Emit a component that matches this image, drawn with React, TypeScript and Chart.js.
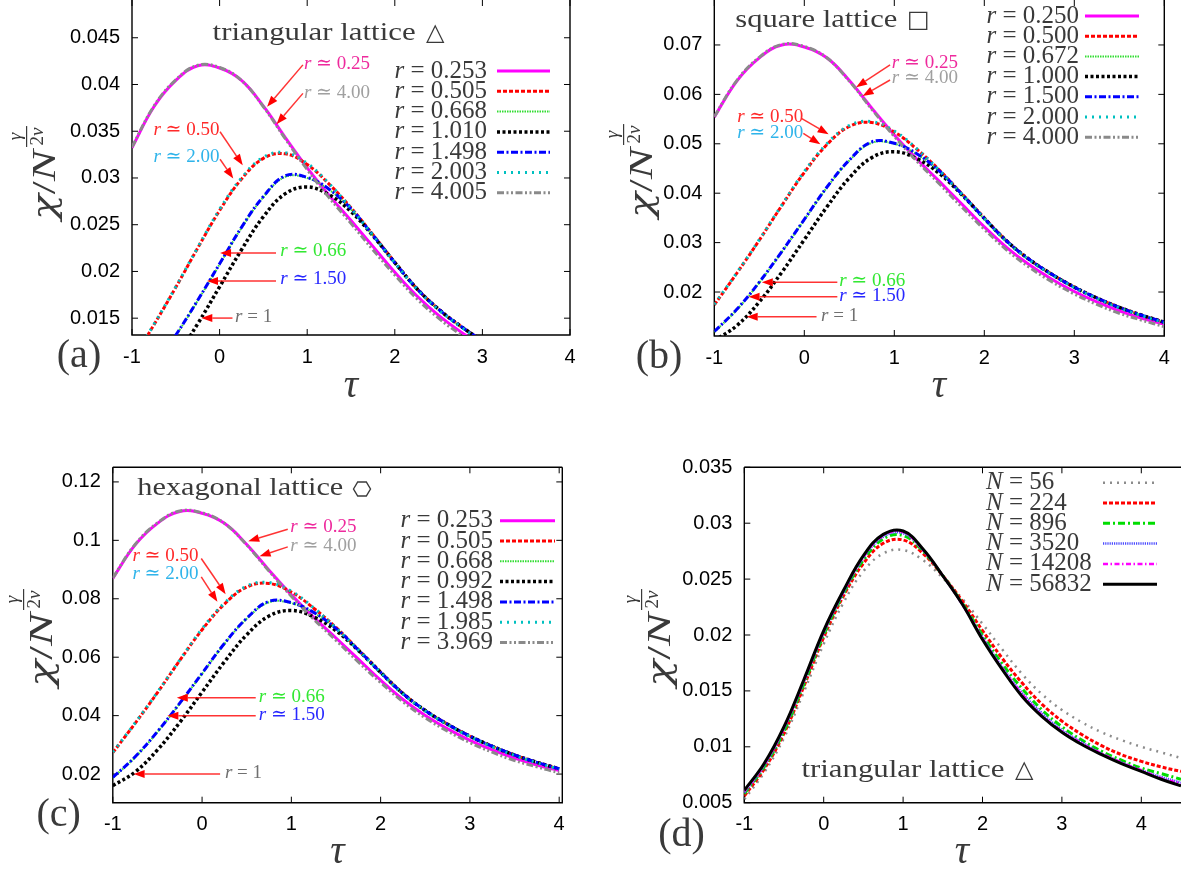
import React, { useEffect, useRef } from "react";
import { Chart, registerables } from "chart.js";

Chart.register(...registerables);

// ---------------- data ----------------
const TAU = [-1, -0.75, -0.5, -0.25, 0, 0.25, 0.5, 0.75, 1, 1.25, 1.5, 1.75, 2, 2.25, 2.5, 2.75, 3, 3.25, 3.5, 3.75, 4];
const TAU_D = [-1, -0.75, -0.5, -0.25, 0, 0.25, 0.5, 0.75, 1, 1.25, 1.5, 1.75, 2, 2.25, 2.5, 2.75, 3, 3.25, 3.5, 3.75, 4, 4.25, 4.5];

const X_TICKS = [-1, 0, 1, 2, 3, 4];
const X_LABELS = ["-1", "0", "1", "2", "3", "4"];

// (a) triangular lattice
const A_Y_TICKS = [0.015, 0.02, 0.025, 0.03, 0.035, 0.04, 0.045];
const A_Y_LABELS = ["0.015", "0.02", "0.025", "0.03", "0.035", "0.04", "0.045"];
const A_NAMES = ["0.253", "0.505", "0.668", "1.010", "1.498", "2.003", "4.005"];
const A_R0253 = [0.03324, 0.03762, 0.04044, 0.042, 0.04176, 0.04044, 0.03768, 0.03432, 0.03108, 0.02814, 0.02544, 0.02268, 0.01992, 0.0174, 0.0153, 0.01356, 0.01206, 0.0108, 0.00972, 0.00882, 0.0081];
const A_R0505 = [0.01044, 0.01428, 0.0183, 0.0225, 0.02652, 0.02988, 0.0321, 0.03258, 0.03144, 0.02934, 0.02682, 0.02394, 0.021, 0.01818, 0.01596, 0.01416, 0.0126, 0.01128, 0.01014, 0.00918, 0.00834];
const A_R0668 = [0.00714, 0.00984, 0.01314, 0.01686, 0.02076, 0.02466, 0.02796, 0.03012, 0.03, 0.02874, 0.02664, 0.02382, 0.02088, 0.01812, 0.0159, 0.0141, 0.01254, 0.01122, 0.01008, 0.00912, 0.00828];
const A_R1010 = [0.00612, 0.00792, 0.0108, 0.0144, 0.01836, 0.02232, 0.02586, 0.02832, 0.02904, 0.0282, 0.0264, 0.02382, 0.02094, 0.01818, 0.01596, 0.01416, 0.0126, 0.01128, 0.01014, 0.00918, 0.00834];
const A_R1498 = [0.0072, 0.0099, 0.0132, 0.01692, 0.02082, 0.02472, 0.02802, 0.03024, 0.03006, 0.0288, 0.0267, 0.02388, 0.02094, 0.01818, 0.01596, 0.01416, 0.0126, 0.01128, 0.01014, 0.00918, 0.00834];
const A_R2003 = [0.0105, 0.01434, 0.01836, 0.02256, 0.02664, 0.03, 0.03222, 0.0327, 0.03156, 0.0294, 0.02676, 0.02388, 0.02094, 0.01812, 0.0159, 0.0141, 0.01254, 0.01122, 0.01008, 0.00912, 0.00828];
const A_R4005 = [0.0333, 0.03768, 0.0405, 0.04206, 0.04182, 0.04044, 0.03762, 0.0342, 0.0309, 0.0279, 0.02514, 0.02232, 0.01962, 0.0171, 0.015, 0.01326, 0.01176, 0.0105, 0.00942, 0.00858, 0.0078];

// (b) square lattice
const B_Y_TICKS = [0.02, 0.03, 0.04, 0.05, 0.06, 0.07];
const B_Y_LABELS = ["0.02", "0.03", "0.04", "0.05", "0.06", "0.07"];
const B_NAMES = ["0.250", "0.500", "0.672", "1.000", "1.500", "2.000", "4.000"];
const B_R0250 = [0.0554, 0.0627, 0.0674, 0.07, 0.0696, 0.0674, 0.0628, 0.0572, 0.0518, 0.0469, 0.0424, 0.0378, 0.0332, 0.029, 0.0255, 0.0226, 0.0201, 0.018, 0.0162, 0.0147, 0.0135];
const B_R0500 = [0.0174, 0.0238, 0.0305, 0.0375, 0.0442, 0.0498, 0.0535, 0.0543, 0.0524, 0.0489, 0.0447, 0.0399, 0.035, 0.0303, 0.0266, 0.0236, 0.021, 0.0188, 0.0169, 0.0153, 0.0139];
const B_R0672 = [0.0119, 0.0164, 0.0219, 0.0281, 0.0346, 0.0411, 0.0466, 0.0502, 0.05, 0.0479, 0.0444, 0.0397, 0.0348, 0.0302, 0.0265, 0.0235, 0.0209, 0.0187, 0.0168, 0.0152, 0.0138];
const B_R1000 = [0.0102, 0.0132, 0.018, 0.024, 0.0306, 0.0372, 0.0431, 0.0472, 0.0484, 0.047, 0.044, 0.0397, 0.0349, 0.0303, 0.0266, 0.0236, 0.021, 0.0188, 0.0169, 0.0153, 0.0139];
const B_R1500 = [0.012, 0.0165, 0.022, 0.0282, 0.0347, 0.0412, 0.0467, 0.0504, 0.0501, 0.048, 0.0445, 0.0398, 0.0349, 0.0303, 0.0266, 0.0236, 0.021, 0.0188, 0.0169, 0.0153, 0.0139];
const B_R2000 = [0.0175, 0.0239, 0.0306, 0.0376, 0.0444, 0.05, 0.0537, 0.0545, 0.0526, 0.049, 0.0446, 0.0398, 0.0349, 0.0302, 0.0265, 0.0235, 0.0209, 0.0187, 0.0168, 0.0152, 0.0138];
const B_R4000 = [0.0555, 0.0628, 0.0675, 0.0701, 0.0697, 0.0674, 0.0627, 0.057, 0.0515, 0.0465, 0.0419, 0.0372, 0.0327, 0.0285, 0.025, 0.0221, 0.0196, 0.0175, 0.0157, 0.0143, 0.013];

// (c) hexagonal lattice
const C_Y_TICKS = [0.02, 0.04, 0.06, 0.08, 0.1, 0.12];
const C_Y_LABELS = ["0.02", "0.04", "0.06", "0.08", "0.1", "0.12"];
const C_NAMES = ["0.253", "0.505", "0.668", "0.992", "1.498", "1.985", "3.969"];
const C_R0253 = [0.08698, 0.09844, 0.10582, 0.1099, 0.10927, 0.10582, 0.0986, 0.0898, 0.08133, 0.07363, 0.06657, 0.05935, 0.05212, 0.04553, 0.04004, 0.03548, 0.03156, 0.02826, 0.02543, 0.02308, 0.0212];
const C_R0505 = [0.02732, 0.03737, 0.04789, 0.05888, 0.06939, 0.07819, 0.084, 0.08525, 0.08227, 0.07677, 0.07018, 0.06264, 0.05495, 0.04757, 0.04176, 0.03705, 0.03297, 0.02952, 0.02653, 0.02402, 0.02182];
const C_R0668 = [0.01868, 0.02575, 0.03438, 0.04412, 0.05432, 0.06453, 0.07316, 0.07881, 0.0785, 0.0752, 0.06971, 0.06233, 0.05464, 0.04741, 0.04161, 0.0369, 0.03281, 0.02936, 0.02638, 0.02386, 0.02167];
const C_R0992 = [0.01601, 0.02072, 0.02826, 0.03768, 0.04804, 0.0584, 0.06767, 0.0741, 0.07599, 0.07379, 0.06908, 0.06233, 0.05479, 0.04757, 0.04176, 0.03705, 0.03297, 0.02952, 0.02653, 0.02402, 0.02182];
const C_R1498 = [0.01884, 0.02591, 0.03454, 0.04427, 0.05448, 0.06468, 0.07332, 0.07913, 0.07866, 0.07536, 0.06987, 0.06249, 0.05479, 0.04757, 0.04176, 0.03705, 0.03297, 0.02952, 0.02653, 0.02402, 0.02182];
const C_R1985 = [0.02748, 0.03752, 0.04804, 0.05903, 0.06971, 0.0785, 0.08431, 0.08557, 0.08258, 0.07693, 0.07002, 0.06249, 0.05479, 0.04741, 0.04161, 0.0369, 0.03281, 0.02936, 0.02638, 0.02386, 0.02167];
const C_R3969 = [0.08714, 0.0986, 0.10598, 0.11006, 0.10943, 0.10582, 0.09844, 0.08949, 0.08086, 0.073, 0.06578, 0.0584, 0.05134, 0.04475, 0.03925, 0.0347, 0.03077, 0.02748, 0.02465, 0.02245, 0.02041];

// (d) triangular lattice, size dependence
const D_Y_TICKS = [0.005, 0.01, 0.015, 0.02, 0.025, 0.03, 0.035];
const D_Y_LABELS = ["0.005", "0.01", "0.015", "0.02", "0.025", "0.03", "0.035"];
const D_NAMES = ["56", "224", "896", "3520", "14208", "56832"];
const D_N56 = [0.0053, 0.0077, 0.0108, 0.0149, 0.0192, 0.0229, 0.0257, 0.0273, 0.0276, 0.0267, 0.0251, 0.0232, 0.021, 0.0187, 0.0165, 0.0147, 0.0133, 0.0122, 0.0113, 0.0106, 0.01, 0.0095, 0.009];
const D_N224 = [0.0056, 0.008, 0.0112, 0.0154, 0.0198, 0.0235, 0.0264, 0.0282, 0.0285, 0.0273, 0.0253, 0.023, 0.0204, 0.0179, 0.0157, 0.0138, 0.0123, 0.0111, 0.0101, 0.0093, 0.0087, 0.0082, 0.0078];
const D_N896 = [0.0058, 0.0082, 0.0114, 0.0156, 0.0200, 0.0237, 0.0267, 0.0286, 0.0289, 0.0275, 0.0253, 0.0228, 0.02, 0.0174, 0.0152, 0.0133, 0.0118, 0.0106, 0.0096, 0.0088, 0.0081, 0.0076, 0.0071];
const D_N3520 = [0.0059, 0.0083, 0.0116, 0.0158, 0.0202, 0.0238, 0.0269, 0.0288, 0.0291, 0.0276, 0.0253, 0.0227, 0.0198, 0.0171, 0.0148, 0.013, 0.0115, 0.0104, 0.0094, 0.0086, 0.0079, 0.0073, 0.0068];
const D_N14208 = [0.006, 0.0084, 0.0117, 0.0159, 0.0203, 0.0239, 0.027, 0.0289, 0.0292, 0.0276, 0.0253, 0.0227, 0.0197, 0.017, 0.0147, 0.0128, 0.0114, 0.0103, 0.0094, 0.0086, 0.0079, 0.0072, 0.0067];
const D_N56832 = [0.0061, 0.0085, 0.0118, 0.016, 0.0204, 0.024, 0.0271, 0.029, 0.0293, 0.0277, 0.0253, 0.0227, 0.0196, 0.0169, 0.0145, 0.0127, 0.0113, 0.0102, 0.0093, 0.0085, 0.0078, 0.0071, 0.0065];

// ---------------- styles ----------------
const SERIF = '"Liberation Serif", "DejaVu Serif", serif';
const GREEK = '"DejaVu Serif", "Liberation Serif", serif';
const SANS = '"Liberation Sans", Arial, sans-serif';
const TEXT_GRAY = "#3a3a3a";

const ST_MAG = { color: "#ff00ff", dash: [], width: 3 };
const ST_RED = { color: "#ff0000", dash: [4, 2], width: 3 };
const ST_GRN = { color: "#33dd33", dash: [1.5, 1], width: 2 };
const ST_BLK = { color: "#000000", dash: [3, 2.5], width: 3.5 };
const ST_BLU = { color: "#0000ff", dash: [7, 2.5, 2, 2.5], width: 3 };
const ST_CYN = { color: "#00c0c0", dash: [2, 5], width: 3 };
const ST_GRY = { color: "#8a8a8a", dash: [7, 2.5, 2, 2.5, 2, 2.5], width: 3 };
const R_STYLES = [ST_MAG, ST_RED, ST_GRN, ST_BLK, ST_BLU, ST_CYN, ST_GRY];

const D_STYLES = [
  { color: "#8c8c8c", dash: [2, 5], width: 2.5 },
  { color: "#ff0000", dash: [4, 2], width: 3 },
  { color: "#00dd00", dash: [7, 3, 2, 3], width: 3 },
  { color: "#4a4aff", dash: [1.2, 1], width: 2.5 },
  { color: "#ff00ff", dash: [5, 2.5, 1.5, 2.5], width: 2.5 },
  { color: "#000000", dash: [], width: 3 },
];

const NC = { mag: "#ee2a9d", gry: "#a0a0a0", red: "#ff2a2a", cyn: "#2fb4ea", grn: "#33e833", blu: "#2828ff", one: "#707070" };

function rp(rest: string) {
  return [{ t: "r", it: true }, { t: rest }];
}

function makeSeries(names: string[], arrays: number[][], styles: any[]) {
  return names.map((n, i) => ({ name: n, data: arrays[i], ...styles[i] }));
}

// ---------------- panels ----------------
const PANEL_A = {
  key: "a",
  box: { left: 0, top: 0, width: 590, height: 430 },
  area: { yAxisW: 132, xAxisH: 95, padTop: 0, padRight: 20 },
  frame: { top: false, right: true },
  x: { min: -1, max: 4, ticks: X_TICKS, labels: X_LABELS },
  y: { min: 0.0132, max: 0.04904, ticks: A_Y_TICKS, labels: A_Y_LABELS },
  tau: TAU,
  varName: "r",
  series: makeSeries(A_NAMES, [A_R0253, A_R0505, A_R0668, A_R1010, A_R1498, A_R2003, A_R4005], R_STYLES),
  legend: { x: 487, align: "right", y0: 71, dy: 20.3, l0: 497, l1: 550 },
  title: { text: "triangular lattice", x: 212.6, y: 39.5, w: 203, sym: "△", symX: 426 },
  label: { text: "(a)", x: 79, y: 367 },
  yTitle: { cx: 55, cy: 220, len: 70 },
  xTitle: { x: 351, y: 397 },
  notes: [
    { parts: rp(" ≃ 0.25"), color: NC.mag, tx: 0.963, ty: 0.04215, ax: 0.951, ay: 0.0421, bx: 0.542, by: 0.03761 },
    { parts: rp(" ≃ 4.00"), color: NC.gry, tx: 0.963, ty: 0.03911, ax: 0.951, ay: 0.03905, bx: 0.65, by: 0.03576 },
    { parts: rp(" ≃ 0.50"), color: NC.red, tx: -0.755, ty: 0.03512, ax: 0.005, ay: 0.03494, bx: 0.264, by: 0.03137 },
    { parts: rp(" ≃ 2.00"), color: NC.cyn, tx: -0.755, ty: 0.0322, ax: 0.005, ay: 0.032, bx: 0.156, by: 0.02995 },
    { parts: rp(" ≃ 0.66"), color: NC.grn, tx: 0.693, ty: 0.0222, ax: 0.644, ay: 0.02198, bx: 0.005, by: 0.02198 },
    { parts: rp(" ≃ 1.50"), color: NC.blu, tx: 0.693, ty: 0.01924, ax: 0.644, ay: 0.01898, bx: -0.144, by: 0.01898 },
    { parts: rp(" = 1"), color: NC.one, tx: 0.176, ty: 0.01513, ax: 0.147, ay: 0.01501, bx: -0.209, by: 0.01501 },
  ],
};

const PANEL_B = {
  key: "b",
  box: { left: 590, top: 0, width: 592, height: 430 },
  area: { yAxisW: 124.3, xAxisH: 94, padTop: 0, padRight: 17.7 },
  frame: { top: false, right: true },
  x: { min: -1, max: 4, ticks: X_TICKS, labels: X_LABELS },
  y: { min: 0.0111, max: 0.0791, ticks: B_Y_TICKS, labels: B_Y_LABELS },
  tau: TAU,
  varName: "r",
  series: makeSeries(B_NAMES, [B_R0250, B_R0500, B_R0672, B_R1000, B_R1500, B_R2000, B_R4000], R_STYLES),
  legend: { x: 1079, align: "right", y0: 16, dy: 20.2, l0: 1085, l1: 1139 },
  title: { text: "square lattice", x: 735.3, y: 26.7, w: 162, sym: "□", symX: 907 },
  label: { text: "(b)", x: 659, y: 368 },
  yTitle: { cx: 652, cy: 218, len: 70 },
  xTitle: { x: 939, y: 397 },
  notes: [
    { parts: rp(" ≃ 0.25"), color: NC.mag, tx: 0.973, ty: 0.0663, ax: 0.953, ay: 0.06595, bx: 0.576, by: 0.06144 },
    { parts: rp(" ≃ 4.00"), color: NC.gry, tx: 0.973, ty: 0.06338, ax: 0.953, ay: 0.06291, bx: 0.648, by: 0.05968 },
    { parts: rp(" ≃ 0.50"), color: NC.red, tx: -0.746, ty: 0.05536, ax: -0.032, ay: 0.05516, bx: 0.27, by: 0.05192 },
    { parts: rp(" ≃ 2.00"), color: NC.cyn, tx: -0.746, ty: 0.05225, ax: -0.011, ay: 0.05213, bx: 0.178, by: 0.0499 },
    { parts: rp(" ≃ 0.66"), color: NC.grn, tx: 0.388, ty: 0.02223, ax: 0.367, ay: 0.02196, bx: -0.472, by: 0.02196 },
    { parts: rp(" ≃ 1.50"), color: NC.blu, tx: 0.388, ty: 0.01925, ax: 0.367, ay: 0.01905, bx: -0.619, by: 0.01905 },
    { parts: rp(" = 1"), color: NC.one, tx: 0.186, ty: 0.01514, ax: 0.136, ay: 0.015, bx: -0.64, by: 0.015 },
  ],
};

const PANEL_C = {
  key: "c",
  box: { left: 0, top: 430, width: 590, height: 441 },
  area: { yAxisW: 112.8, xAxisH: 68.3, padTop: 37.3, padRight: 27.7 },
  frame: { top: true, right: true },
  x: { min: -1, max: 4.035, ticks: X_TICKS, labels: X_LABELS },
  y: { min: 0.0102, max: 0.125, ticks: C_Y_TICKS, labels: C_Y_LABELS },
  tau: TAU,
  varName: "r",
  series: makeSeries(C_NAMES, [C_R0253, C_R0505, C_R0668, C_R0992, C_R1498, C_R1985, C_R3969], R_STYLES),
  legend: { x: 493, align: "right", y0: 520.7, dy: 20.3, l0: 500, l1: 555 },
  title: { text: "hexagonal lattice", x: 137.3, y: 495, w: 206, sym: "", symX: 354, hex: { cx: 362, cy: 489 } },
  label: { text: "(c)", x: 58.7, y: 826 },
  yTitle: { cx: 52, cy: 687, len: 74 },
  xTitle: { x: 337.5, y: 863 },
  notes: [
    { parts: rp(" ≃ 0.25"), color: NC.mag, tx: 0.989, ty: 0.1044, ax: 0.96, ay: 0.1038, bx: 0.517, by: 0.09972 },
    { parts: rp(" ≃ 4.00"), color: NC.gry, tx: 0.989, ty: 0.09811, ax: 0.96, ay: 0.09777, bx: 0.644, by: 0.09459 },
    { parts: rp(" ≃ 0.50"), color: NC.red, tx: -0.78, ty: 0.09459, ax: -0.009, ay: 0.0938, bx: 0.264, by: 0.08159 },
    { parts: rp(" ≃ 2.00"), color: NC.cyn, tx: -0.78, ty: 0.08832, ax: -0.009, ay: 0.0875, bx: 0.172, by: 0.07895 },
    { parts: rp(" ≃ 0.66"), color: NC.grn, tx: 0.635, ty: 0.04645, ax: 0.601, ay: 0.04612, bx: -0.283, by: 0.04612 },
    { parts: rp(" ≃ 1.50"), color: NC.blu, tx: 0.635, ty: 0.04019, ax: 0.601, ay: 0.03996, bx: -0.389, by: 0.03996 },
    { parts: rp(" = 1"), color: NC.one, tx: 0.256, ty: 0.02025, ax: 0.202, ay: 0.02002, bx: -0.767, by: 0.02002 },
  ],
};

const PANEL_D = {
  key: "d",
  box: { left: 590, top: 430, width: 592, height: 441 },
  area: { yAxisW: 154.3, xAxisH: 68.3, padTop: 37.3, padRight: 1 },
  frame: { top: true, right: false },
  x: { min: -1, max: 4.5, ticks: X_TICKS, labels: X_LABELS },
  y: { min: 0.005, max: 0.035, ticks: D_Y_TICKS, labels: D_Y_LABELS },
  tau: TAU_D,
  varName: "N",
  series: makeSeries(D_NAMES, [D_N56, D_N224, D_N896, D_N3520, D_N14208, D_N56832], D_STYLES),
  legend: { x: 986, align: "left", y0: 482.7, dy: 20.3, l0: 1103, l1: 1157 },
  title: { text: "triangular lattice", x: 801.4, y: 776.7, w: 203, sym: "△", symX: 1015 },
  label: { text: "(d)", x: 681.5, y: 846 },
  yTitle: { cx: 670, cy: 687, len: 74 },
  xTitle: { x: 962, y: 863 },
  notes: [],
};

const PANELS = [PANEL_A, PANEL_B, PANEL_C, PANEL_D];

// ---------------- drawing helpers ----------------
function fontOf(it: boolean, size: number, fam: string = SERIF) {
  return `${it ? "italic " : ""}${size}px ${fam}`;
}

function drawParts(ctx: CanvasRenderingContext2D, parts: any[], x: number, y: number, size: number, align: string) {
  let total = 0;
  for (const p of parts) {
    ctx.font = fontOf(!!p.it, size);
    total += ctx.measureText(p.t).width;
  }
  let px = align === "right" ? x - total : x;
  ctx.textAlign = "left";
  for (const p of parts) {
    ctx.font = fontOf(!!p.it, size);
    ctx.fillText(p.t, px, y);
    px += ctx.measureText(p.t).width;
  }
}

function drawArrow(ctx: CanvasRenderingContext2D, x0: number, y0: number, x1: number, y1: number) {
  const ang = Math.atan2(y1 - y0, x1 - x0);
  const L = 11;
  const W = 4;
  const bx = x1 - L * Math.cos(ang);
  const by = y1 - L * Math.sin(ang);
  ctx.setLineDash([]);
  ctx.strokeStyle = "rgba(255,0,0,0.8)";
  ctx.lineWidth = 1.5;
  ctx.beginPath();
  ctx.moveTo(x0, y0);
  ctx.lineTo(bx, by);
  ctx.stroke();
  ctx.fillStyle = "#ff0000";
  ctx.beginPath();
  ctx.moveTo(x1, y1);
  ctx.lineTo(bx + W * Math.sin(ang), by - W * Math.cos(ang));
  ctx.lineTo(bx - W * Math.sin(ang), by + W * Math.cos(ang));
  ctx.closePath();
  ctx.fill();
}

function drawYTitle(ctx: CanvasRenderingContext2D, cx: number, cy: number, len: number) {
  ctx.save();
  ctx.translate(cx, cy);
  ctx.rotate(-Math.PI / 2);
  ctx.fillStyle = TEXT_GRAY;
  ctx.textBaseline = "alphabetic";
  ctx.textAlign = "left";
  const F = 34;
  const chiFont = fontOf(true, 31, GREEK);
  ctx.font = chiFont;
  const wChi = ctx.measureText("χ").width;
  ctx.font = fontOf(false, F);
  const wSl = ctx.measureText("/").width;
  ctx.font = fontOf(true, F);
  const wN = ctx.measureText("N").width;
  const sx = len / (wChi + wSl + wN);
  ctx.save();
  ctx.scale(sx, 1);
  ctx.font = chiFont;
  ctx.fillText("χ", 0, 0);
  ctx.font = fontOf(false, F);
  ctx.fillText("/", wChi, 0);
  ctx.font = fontOf(true, F);
  ctx.fillText("N", wChi + wSl, 0);
  ctx.restore();
  const x = len + 3;
  const f = 19;
  ctx.font = fontOf(true, f);
  const wg = ctx.measureText("γ").width;
  const wnu = ctx.measureText("ν").width;
  ctx.font = fontOf(false, f);
  const w2 = ctx.measureText("2").width;
  const fw = Math.max(wg, w2 + wnu) + 3;
  ctx.fillRect(x, -29, fw, 1.2);
  ctx.font = fontOf(true, f);
  ctx.fillText("γ", x + (fw - wg) / 2, -34);
  ctx.font = fontOf(false, f);
  ctx.fillText("2", x + (fw - w2 - wnu) / 2, -12);
  ctx.font = fontOf(true, f);
  ctx.fillText("ν", x + (fw - w2 - wnu) / 2 + w2, -12);
  ctx.restore();
}

function decoPlugin(p: any) {
  return {
    id: "deco_" + p.key,
    beforeDatasetsDraw(chart: any) {
      const { ctx, chartArea: a, scales } = chart;
      ctx.save();
      ctx.setLineDash([]);
      ctx.strokeStyle = "#000";
      ctx.lineWidth = 1.4;
      ctx.beginPath();
      ctx.moveTo(a.left, a.top);
      ctx.lineTo(a.left, a.bottom);
      ctx.lineTo(a.right, a.bottom);
      if (p.frame.right) ctx.lineTo(a.right, a.top);
      if (p.frame.top) {
        ctx.moveTo(a.left, a.top);
        ctx.lineTo(a.right, a.top);
      }
      ctx.stroke();
      const T = 6;
      ctx.lineWidth = 1;
      ctx.beginPath();
      for (const v of p.x.ticks) {
        const px = scales.x.getPixelForValue(v);
        ctx.moveTo(px, a.bottom);
        ctx.lineTo(px, a.bottom - T);
        ctx.moveTo(px, a.top);
        ctx.lineTo(px, a.top + T);
      }
      for (const v of p.y.ticks) {
        const py = scales.y.getPixelForValue(v);
        ctx.moveTo(a.left, py);
        ctx.lineTo(a.left + T, py);
        if (p.frame.right) {
          ctx.moveTo(a.right, py);
          ctx.lineTo(a.right - T, py);
        }
      }
      ctx.stroke();
      ctx.restore();
    },
    afterDatasetsDraw(chart: any) {
      const { ctx, scales } = chart;
      const sx = scales.x;
      const sy = scales.y;
      ctx.save();
      // annotations (data coordinates)
      ctx.textBaseline = "middle";
      for (const n of p.notes) {
        drawArrow(ctx, sx.getPixelForValue(n.ax), sy.getPixelForValue(n.ay), sx.getPixelForValue(n.bx), sy.getPixelForValue(n.by));
        ctx.fillStyle = n.color;
        drawParts(ctx, n.parts, sx.getPixelForValue(n.tx), sy.getPixelForValue(n.ty), 19, "left");
      }
      // page-coordinate decorations
      ctx.translate(-p.box.left, -p.box.top);
      // legend
      const lg = p.legend;
      p.series.forEach((s: any, i: number) => {
        const y = lg.y0 + i * lg.dy;
        ctx.fillStyle = TEXT_GRAY;
        ctx.textBaseline = "middle";
        drawParts(ctx, [{ t: p.varName, it: true }, { t: " = " + s.name }], lg.x, y, 25, lg.align);
        ctx.strokeStyle = s.color;
        ctx.lineWidth = s.width;
        ctx.setLineDash(s.dash);
        ctx.beginPath();
        ctx.moveTo(lg.l0, y);
        ctx.lineTo(lg.l1, y);
        ctx.stroke();
      });
      ctx.setLineDash([]);
      // title
      const t = p.title;
      ctx.fillStyle = TEXT_GRAY;
      ctx.textBaseline = "alphabetic";
      ctx.textAlign = "left";
      ctx.font = fontOf(false, 25);
      const tw = ctx.measureText(t.text).width;
      ctx.save();
      ctx.translate(t.x, t.y);
      ctx.scale(t.w / tw, 1);
      ctx.fillText(t.text, 0, 0);
      ctx.restore();
      if (t.sym) {
        ctx.font = `24px "DejaVu Sans", sans-serif`;
        ctx.fillText(t.sym, t.symX, t.y);
      }
      if (t.hex) {
        const { cx, cy } = t.hex;
        ctx.strokeStyle = TEXT_GRAY;
        ctx.lineWidth = 1.4;
        ctx.beginPath();
        ctx.moveTo(cx - 8.5, cy);
        ctx.lineTo(cx - 4.3, cy - 7);
        ctx.lineTo(cx + 4.3, cy - 7);
        ctx.lineTo(cx + 8.5, cy);
        ctx.lineTo(cx + 4.3, cy + 7);
        ctx.lineTo(cx - 4.3, cy + 7);
        ctx.closePath();
        ctx.stroke();
      }
      // panel label
      ctx.font = fontOf(false, 40);
      ctx.textAlign = "center";
      ctx.fillText(p.label.text, p.label.x, p.label.y);
      // x title
      ctx.font = fontOf(true, 40);
      ctx.fillText("τ", p.xTitle.x, p.xTitle.y);
      ctx.textAlign = "left";
      // y title
      drawYTitle(ctx, p.yTitle.cx, p.yTitle.cy, p.yTitle.len);
      ctx.restore();
    },
  };
}

function buildConfig(p: any) {
  const n = p.series.length;
  const datasets = p.series.map((s: any, i: number) => ({
    label: s.name,
    data: s.data.map((v: number, j: number) => ({ x: p.tau[j], y: v })),
    borderColor: s.color,
    backgroundColor: s.color,
    borderWidth: s.width,
    borderDash: s.dash,
    borderCapStyle: "butt",
    pointRadius: 0,
    pointHoverRadius: 0,
    fill: false,
    tension: 0.4,
    order: n - i,
  }));
  const tickFont = { family: SANS, size: 20 };
  return {
    type: "line",
    data: { datasets },
    options: {
      responsive: false,
      maintainAspectRatio: false,
      animation: false,
      devicePixelRatio: 1,
      events: [],
      layout: { padding: { left: 0, top: p.area.padTop, right: p.area.padRight, bottom: 0 } },
      plugins: { legend: { display: false }, tooltip: { enabled: false }, title: { display: false } },
      scales: {
        x: {
          type: "linear",
          position: "bottom",
          min: p.x.min,
          max: p.x.max,
          grid: { display: false, drawTicks: false },
          border: { display: false },
          afterBuildTicks: (s: any) => {
            s.ticks = p.x.ticks.map((v: number) => ({ value: v }));
          },
          afterFit: (s: any) => {
            s.height = p.area.xAxisH;
            s.paddingLeft = 0;
            s.paddingRight = 0;
          },
          ticks: {
            callback: (_v: any, i: number) => p.x.labels[i],
            padding: 10,
            font: tickFont,
            color: "#000",
            maxRotation: 0,
            minRotation: 0,
            autoSkip: false,
          },
        },
        y: {
          type: "linear",
          position: "left",
          min: p.y.min,
          max: p.y.max,
          grid: { display: false, drawTicks: false },
          border: { display: false },
          afterBuildTicks: (s: any) => {
            s.ticks = p.y.ticks.map((v: number) => ({ value: v }));
          },
          afterFit: (s: any) => {
            s.width = p.area.yAxisW;
            s.paddingTop = 0;
            s.paddingBottom = 0;
          },
          ticks: {
            callback: (_v: any, i: number) => p.y.labels[i],
            padding: 12,
            font: tickFont,
            color: "#000",
            autoSkip: false,
          },
        },
      },
    },
    plugins: [decoPlugin(p)],
  };
}

function Panel({ p }: { p: any }) {
  const ref = useRef<HTMLCanvasElement>(null);
  useEffect(() => {
    const c = ref.current;
    if (!c) return;
    const chart = new Chart(c, buildConfig(p) as any);
    return () => chart.destroy();
  }, [p]);
  return (
    <canvas
      ref={ref}
      width={p.box.width}
      height={p.box.height}
      style={{ position: "absolute", left: p.box.left, top: p.box.top, width: p.box.width, height: p.box.height }}
    />
  );
}

export default function App() {
  return (
    <div style={{ position: "absolute", left: 0, top: 0, width: 1182, height: 871, background: "#ffffff", overflow: "hidden" }}>
      {PANELS.map((p) => (
        <Panel key={p.key} p={p} />
      ))}
    </div>
  );
}
